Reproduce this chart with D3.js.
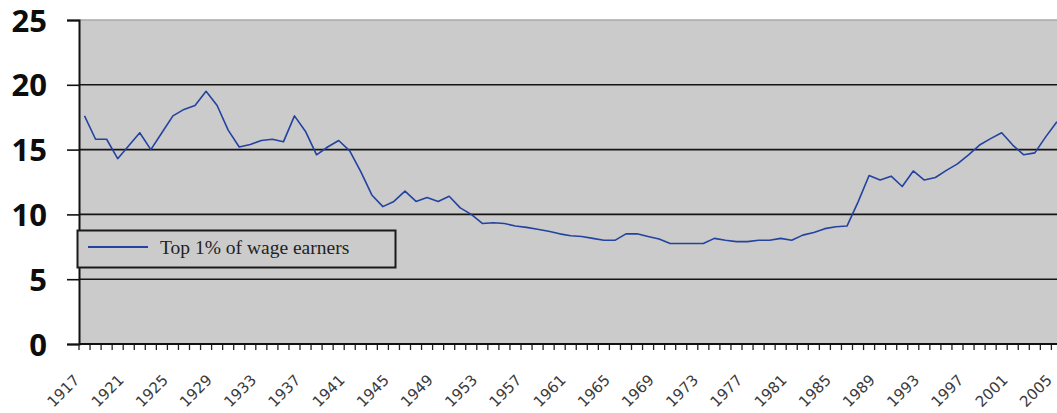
<!DOCTYPE html>
<html>
<head>
<meta charset="utf-8">
<script src="https://cdn.jsdelivr.net/npm/d3@7"></script>
<style>
  html, body { margin: 0; padding: 0; background: #ffffff; }
  svg { display: block; }
</style>
</head>
<body>
<svg id="chart" width="1057" height="413"></svg>
<script>
const years = d3.range(1917, 2006);
const shares = [
  17.6, 15.8, 15.8, 14.3, 15.3, 16.3, 15.0, 16.3, 17.6, 18.1,
  18.4, 19.5, 18.4, 16.5, 15.2, 15.4, 15.7, 15.8, 15.6, 17.6,
  16.4, 14.6, 15.2, 15.7, 14.9, 13.3, 11.5, 10.6, 11.0, 11.8,
  11.0, 11.3, 11.0, 11.4, 10.5, 10.0, 9.3, 9.35, 9.3, 9.1,
  9.0, 8.85, 8.7, 8.5, 8.35, 8.3, 8.15, 8.0, 8.0, 8.5,
  8.5, 8.3, 8.1, 7.75, 7.75, 7.75, 7.75, 8.15, 8.0, 7.9,
  7.9, 8.0, 8.0, 8.15, 8.0, 8.4, 8.6, 8.9, 9.05, 9.1,
  10.95, 13.0, 12.65, 12.95, 12.15, 13.35, 12.65, 12.85, 13.4, 13.9,
  14.6, 15.35, 15.85, 16.3, 15.35, 14.6, 14.75, 16.0, 17.15
];
const yTicks = [0, 5, 10, 15, 20, 25];
const labelYears = years.filter(v => (v - 1917) % 4 === 0);
const seriesName = "Top 1% of wage earners";

(function () {
const svg = d3.select("#chart");
const mLeft = 79, mTop = 20, mBottom = 344;
const catW = 11.05;
const mRight = mLeft + catW * years.length;

const x = d3.scaleBand().domain(years).range([mLeft, mRight]).paddingInner(0).paddingOuter(0);
const y = d3.scaleLinear().domain([0, 25]).range([mBottom, mTop]);

// plot background
svg.append("rect")
  .attr("x", mLeft).attr("y", mTop)
  .attr("width", mRight - mLeft).attr("height", mBottom - mTop)
  .attr("fill", "#cbcbcb");

// top border
svg.append("line")
  .attr("x1", mLeft).attr("x2", mRight)
  .attr("y1", y(25)).attr("y2", y(25))
  .attr("stroke", "#a8a8a8").attr("stroke-width", 1.5);

// gridlines (excluding top)
svg.append("g").selectAll("line")
  .data(yTicks.filter(t => t < 25))
  .join("line")
  .attr("x1", mLeft).attr("x2", mRight)
  .attr("y1", d => y(d)).attr("y2", d => y(d))
  .attr("stroke", "#151515").attr("stroke-width", 1.6);

// y axis
const yAxis = d3.axisLeft(y).tickValues(yTicks).tickSize(12).tickPadding(20).tickFormat(d3.format("d"));
const gy = svg.append("g").attr("transform", `translate(${mLeft},0)`).call(yAxis);
gy.select(".domain").attr("stroke", "#111").attr("stroke-width", 2);
gy.selectAll(".tick line").attr("stroke", "#111").attr("stroke-width", 1.6);
gy.selectAll(".tick text")
  .attr("font-family", "'Open Sans', 'DejaVu Sans', sans-serif")
  .attr("font-weight", "bold")
  .attr("font-size", 31)
  .attr("fill", "#0d0d0d")
  .attr("dy", "0.36em");

// x axis ticks at category boundaries
const boundaries = d3.range(years.length + 1).map(i => mLeft + i * x.bandwidth());
svg.append("g").selectAll("line")
  .data(boundaries)
  .join("line")
  .attr("x1", d => d).attr("x2", d => d)
  .attr("y1", mBottom).attr("y2", mBottom + 6)
  .attr("stroke", "#222").attr("stroke-width", 1.3);
svg.append("line")
  .attr("x1", mLeft).attr("x2", mRight)
  .attr("y1", mBottom).attr("y2", mBottom)
  .attr("stroke", "#111").attr("stroke-width", 2);

// x labels
svg.append("g").selectAll("text")
  .data(labelYears)
  .join("text")
  .attr("transform", d => `translate(${x(d) + x.bandwidth() / 2 - 4},${mBottom + 37}) rotate(-45)`)
  .attr("text-anchor", "end")
  .attr("font-family", "'DejaVu Sans', Verdana, sans-serif")
  .attr("font-size", 15)
  .attr("fill", "#3a3a3a")
  .text(d => d);

// line
const line = d3.line()
  .x((d, i) => x(years[i]) + x.bandwidth() / 2)
  .y(d => y(d));
svg.append("path")
  .datum(shares)
  .attr("d", line)
  .attr("fill", "none")
  .attr("stroke", "#2442a0")
  .attr("stroke-width", 1.6)
  .attr("stroke-linejoin", "round");

// legend
const lg = svg.append("g");
lg.append("rect")
  .attr("x", 77.5).attr("y", 230.5)
  .attr("width", 318).attr("height", 37)
  .attr("fill", "#cbcbcb")
  .attr("stroke", "#1a1a1a").attr("stroke-width", 2);
lg.append("line")
  .attr("x1", 88).attr("x2", 148)
  .attr("y1", 247).attr("y2", 247)
  .attr("stroke", "#2442a0").attr("stroke-width", 2);
lg.append("text")
  .attr("x", 160).attr("y", 253.5)
  .attr("font-family", "'Liberation Serif', 'Times New Roman', serif")
  .attr("font-size", 19.5)
  .attr("fill", "#222")
  .text(seriesName);
})();
</script>
</body>
</html>
